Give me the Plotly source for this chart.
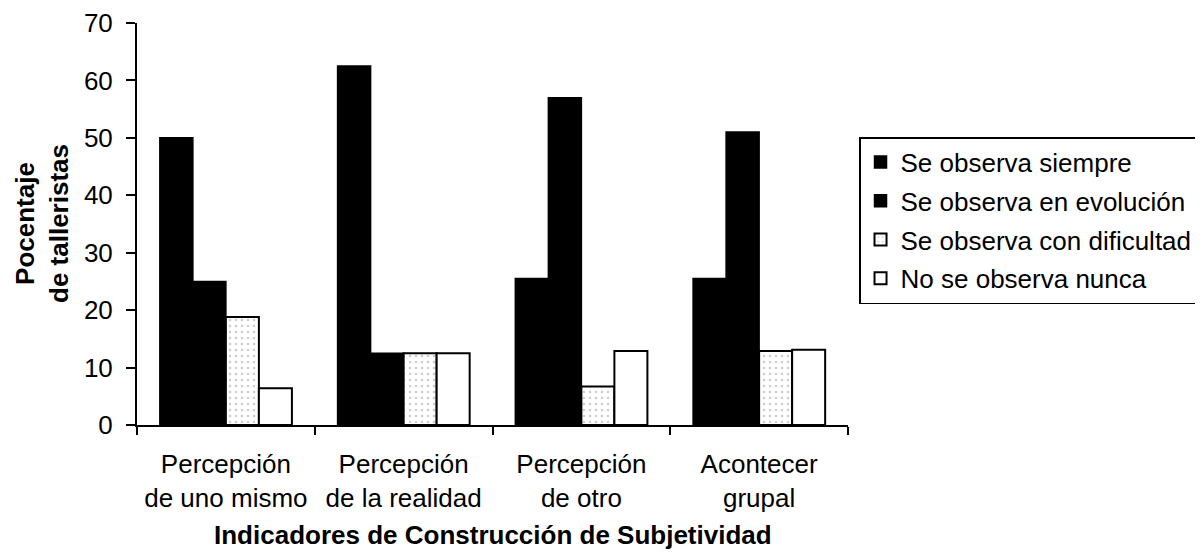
import plotly.graph_objects as go

categories = ["Percepción<br>de uno mismo", "Percepción<br>de la realidad",
              "Percepción<br>de otro", "Acontecer<br>grupal"]
series_names = ["Se observa siempre", "Se observa en evolución",
                "Se observa con dificultad", "No se observa nunca"]
siempre = [50.0, 62.5, 25.5, 25.5]
evolucion = [25.0, 12.5, 57.0, 51.0]
dificultad = [18.8, 12.5, 6.7, 12.9]
nunca = [6.4, 12.5, 12.9, 13.1]
y_ticks = [0, 10, 20, 30, 40, 50, 60, 70]

FONT = "Liberation Sans, Arial, sans-serif"
FS = 26

fig = go.Figure()
fig.add_trace(go.Bar(name=series_names[0], x=categories, y=siempre, legendgroup="g1",
                     marker=dict(color="black", line=dict(color="black", width=1.5))))
fig.add_trace(go.Bar(name=series_names[1], x=categories, y=evolucion, legendgroup="g2",
                     marker=dict(color="black", line=dict(color="black", width=1.5))))
fig.add_trace(go.Bar(name=series_names[2], x=categories, y=dificultad, legendgroup="g3",
                     marker=dict(color="white", line=dict(color="black", width=2),
                                 pattern=dict(shape=".", fgcolor="#9a9a9a", bgcolor="white",
                                              size=6, solidity=0.15))))
fig.add_trace(go.Bar(name=series_names[3], x=categories, y=nunca, legendgroup="g4",
                     marker=dict(color="white", line=dict(color="black", width=2))))

fig.update_layout(
    width=1203, height=554,
    margin=dict(l=129, r=363, t=15, b=137, autoexpand=False),
    paper_bgcolor="white", plot_bgcolor="white",
    barmode="group", bargap=0.257, bargroupgap=0,
    font=dict(family=FONT, size=FS, color="black"),
    showlegend=True,
    legend=dict(x=1.4923, y=0.7164, xanchor="right", yanchor="top",
                bordercolor="black", borderwidth=1.5, bgcolor="white",
                font=dict(family=FONT, size=FS, color="black"),
                tracegroupgap=2, itemwidth=30),
    xaxis=dict(showline=True, linecolor="black", linewidth=2, automargin=False,
               ticks="outside", tickson="boundaries", ticklen=8, tickwidth=2,
               tickcolor="black", showgrid=False, ticklabelstandoff=15,
               tickfont=dict(family=FONT, size=FS, color="black")),
    yaxis=dict(range=[0, 70], tickvals=y_ticks, showline=True, linecolor="black",
               linewidth=2, ticks="outside", ticklen=9, tickwidth=2, tickcolor="black",
               showgrid=False, zeroline=False, ticklabelstandoff=8, automargin=False,
               tickfont=dict(family=FONT, size=FS, color="black")),
    annotations=[
        dict(text="<b>Pocentaje<br>de talleristas</b>", xref="paper", yref="paper",
             x=0, y=0.5, xanchor="center", yanchor="middle", xshift=-95,
             textangle=-90, showarrow=False,
             font=dict(family=FONT, size=FS, color="black")),
        dict(text="<b>Indicadores de Construcción de Subjetividad</b>", xref="paper",
             yref="paper", x=0.5, y=0, xanchor="center", yanchor="middle",
             yshift=-110, showarrow=False,
             font=dict(family=FONT, size=FS, color="black")),
    ],
)

fig.write_html("out.html")
